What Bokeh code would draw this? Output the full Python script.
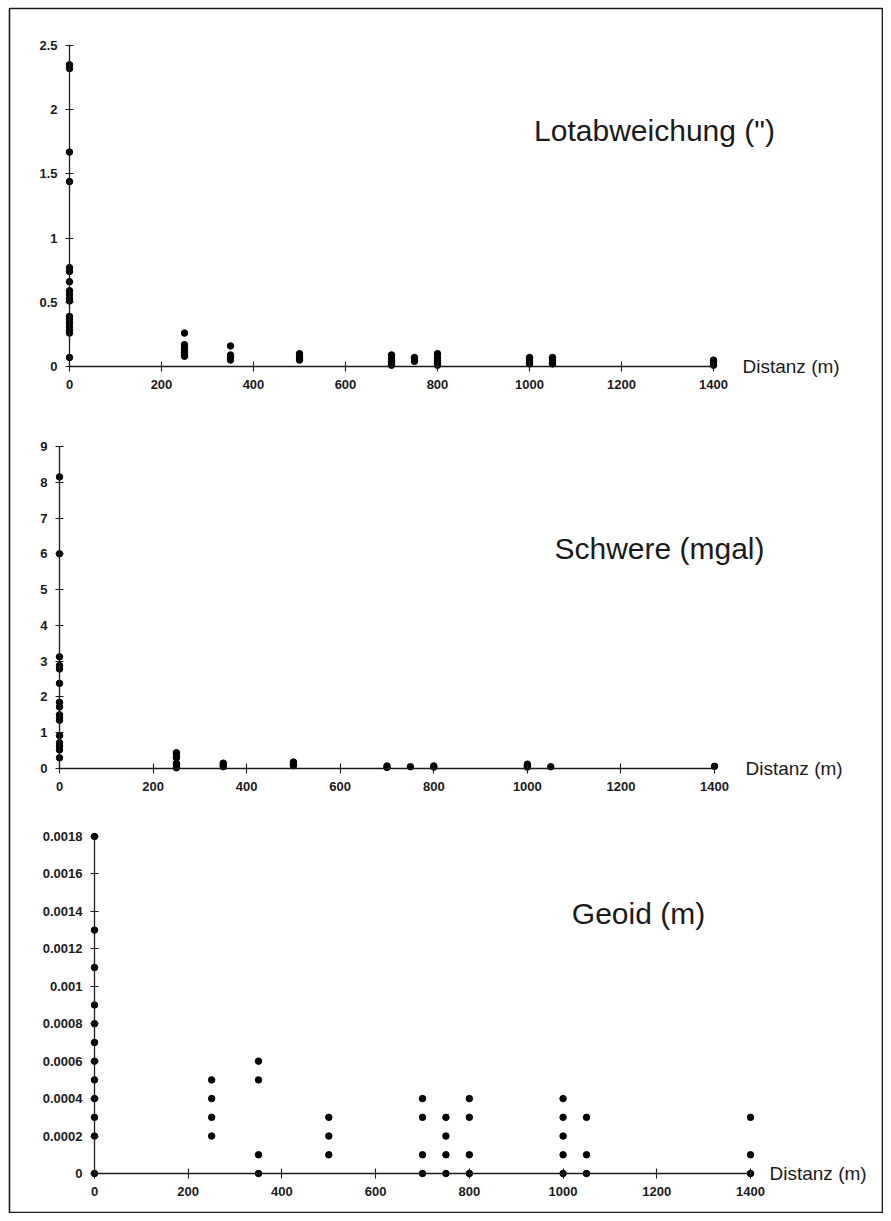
from bokeh.plotting import figure
from bokeh.models import LinearAxis, FixedTicker, CustomJSTickFormatter, Label, Range1d
from bokeh.embed import file_html
from bokeh.resources import INLINE

# ---------------- data ----------------
x_ticks = [0, 200, 400, 600, 800, 1000, 1200, 1400]

lot_ticks = [0, 0.5, 1, 1.5, 2, 2.5]
lot_x = [0] * 18 + [250] * 7 + [350] * 4 + [500] * 4 + [700] * 5 + [750] * 3 + [800] * 5 + [1000] * 4 + [1050] * 4 + [1400] * 3
lot_y = [2.35, 2.32, 1.67, 1.44, 0.77, 0.74, 0.66, 0.59, 0.56, 0.53, 0.51, 0.39, 0.37, 0.34, 0.31, 0.28, 0.26, 0.07,
         0.26, 0.17, 0.15, 0.13, 0.11, 0.09, 0.08,
         0.16, 0.09, 0.07, 0.05,
         0.10, 0.08, 0.06, 0.05,
         0.09, 0.06, 0.04, 0.02, 0.01,
         0.07, 0.05, 0.04,
         0.10, 0.07, 0.05, 0.03, 0.01,
         0.07, 0.05, 0.03, 0.02,
         0.07, 0.05, 0.03, 0.02,
         0.05, 0.03, 0.01]

sch_ticks = [0, 1, 2, 3, 4, 5, 6, 7, 8, 9]
sch_x = [0] * 16 + [250] * 6 + [350] * 3 + [500] * 3 + [700] * 2 + [750] + [800] * 2 + [1000] * 3 + [1050] + [1400]
sch_y = [8.15, 6.0, 3.12, 2.88, 2.78, 2.38, 1.85, 1.72, 1.50, 1.42, 1.35, 0.92, 0.72, 0.62, 0.52, 0.30,
         0.44, 0.38, 0.30, 0.15, 0.10, 0.02,
         0.15, 0.10, 0.05,
         0.18, 0.12, 0.08,
         0.07, 0.03,
         0.05,
         0.07, 0.04,
         0.12, 0.08, 0.04,
         0.05,
         0.06]

geo_ticks = [0, 0.0002, 0.0004, 0.0006, 0.0008, 0.001, 0.0012, 0.0014, 0.0016, 0.0018]
geo_x = [0] * 12 + [250] * 4 + [350] * 4 + [500] * 3 + [700] * 4 + [750] * 4 + [800] * 4 + [1000] * 5 + [1050] * 3 + [1400] * 3
geo_y = [0.0018, 0.0013, 0.0011, 0.0009, 0.0008, 0.0007, 0.0006, 0.0005, 0.0004, 0.0003, 0.0002, 0.0,
         0.0005, 0.0004, 0.0003, 0.0002,
         0.0006, 0.0005, 0.0001, 0.0,
         0.0003, 0.0002, 0.0001,
         0.0004, 0.0003, 0.0001, 0.0,
         0.0003, 0.0002, 0.0001, 0.0,
         0.0004, 0.0003, 0.0001, 0.0,
         0.0004, 0.0003, 0.0002, 0.0001, 0.0,
         0.0003, 0.0001, 0.0,
         0.0003, 0.0001, 0.0]

titles = ["Lotabweichung (\")", "Schwere (mgal)", "Geoid (m)"]
x_label = "Distanz (m)"

# ---------------- layout (picture pixels) ----------------
W, H = 883, 1213
MBL, MBT, MBR, MBB = 9, 8, 1, 1
FL, FT = MBL, MBT
FW, FH = W - MBL - MBR, H - MBT - MBB

# (x=0 px, x=1400 px, y=0 px, y=top px, y top value)
panels = [
    (69, 713, 366, 45, 2.5),
    (59, 714, 768, 446, 9.0),
    (94, 750, 1173, 836, 0.0018),
]
title_pos = [(654, 130), (659, 548), (638, 913)]   # text centres
dist_px = [742, 745, 769]


def ranges(p0, p1400, py0, pyt, ytop):
    kx = (p1400 - p0) / 1400.0
    xs = -(p0 - FL) / kx
    xr = Range1d(xs, xs + FW / kx)
    ky = (py0 - pyt) / ytop
    ys = -(FT + FH - py0) / ky
    yr = Range1d(ys, ys + FH / ky)
    return xr, yr, kx, ky


r = [ranges(*pp) for pp in panels]

p = figure(width=W, height=H, x_range=r[0][0], y_range=r[0][1],
           x_axis_type=None, y_axis_type=None, output_backend="svg",
           toolbar_location=None,
           min_border_left=MBL, min_border_top=MBT, min_border_right=MBR, min_border_bottom=MBB)
p.extra_x_ranges = {"x2": r[1][0], "x3": r[2][0]}
p.extra_y_ranges = {"y2": r[1][1], "y3": r[2][1]}
p.outline_line_color = "#1a1a1a"
p.outline_line_width = 1.6
p.background_fill_color = "white"
p.border_fill_color = "white"

names = [("default", "default"), ("x2", "y2"), ("x3", "y3")]
datasets = [(lot_x, lot_y, lot_ticks), (sch_x, sch_y, sch_ticks), (geo_x, geo_y, geo_ticks)]
fmt_code = "return String(parseFloat(tick.toPrecision(6)));"
FONT = "Liberation Sans"

for i, ((xn, yn), (xs, ys, yt)) in enumerate(zip(names, datasets)):
    ytop = panels[i][4]
    xa = LinearAxis(x_range_name=xn, y_range_name=yn, fixed_location=0, bounds=(0, 1400),
                    ticker=FixedTicker(ticks=x_ticks), minor_tick_line_color=None)
    ya = LinearAxis(x_range_name=xn, y_range_name=yn, fixed_location=0, bounds=(0, ytop),
                    ticker=FixedTicker(ticks=yt), minor_tick_line_color=None,
                    formatter=CustomJSTickFormatter(code=fmt_code))
    for ax in (xa, ya):
        ax.axis_line_color = "#1a1a1a"
        ax.axis_line_width = 1.3
        ax.major_tick_line_color = "#1a1a1a"
        ax.major_tick_line_width = 1.1
        ax.major_label_text_font = FONT
        ax.major_label_text_font_size = "13px"
        ax.major_label_text_font_style = "bold"
        ax.major_label_text_color = "#1a1a1a"
    xa.major_tick_in = 5
    xa.major_tick_out = 5
    xa.major_label_standoff = 8
    ya.major_tick_in = 4
    ya.major_tick_out = 4
    ya.major_label_standoff = 8
    p.add_layout(xa, "below")
    p.add_layout(ya, "left")

    p.scatter(xs, ys, size=6.5, color="black", x_range_name=xn, y_range_name=yn)

    kx, ky = r[i][2], r[i][3]
    p0, _, py0, _, _ = panels[i]
    tx, ty = title_pos[i]
    p.add_layout(Label(x=(tx - p0) / kx, y=(py0 - ty) / ky, text=titles[i],
                       x_range_name=xn, y_range_name=yn,
                       text_font=FONT, text_font_size="30px", text_color="#1a1a1a",
                       text_baseline="middle", text_align="center"))
    p.add_layout(Label(x=(dist_px[i] - p0) / kx, y=0, text=x_label,
                       x_range_name=xn, y_range_name=yn,
                       text_font=FONT, text_font_size="19px", text_color="#1a1a1a",
                       text_baseline="middle", text_align="left"))

open("out.html", "w").write(file_html(p, INLINE))
